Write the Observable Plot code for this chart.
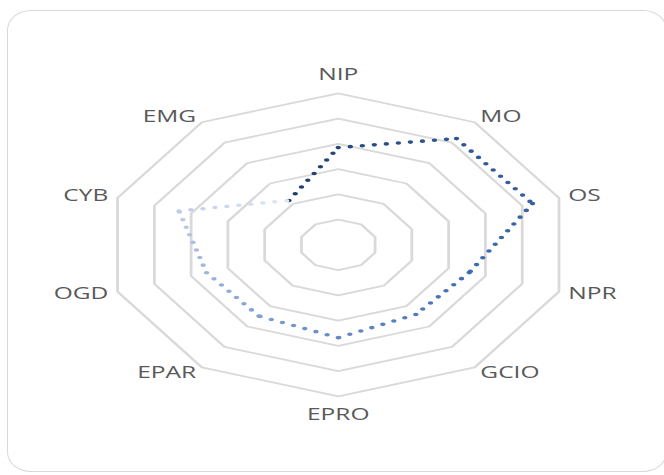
<!DOCTYPE html>
<html>
<head>
<meta charset="utf-8">
<script src="https://cdn.jsdelivr.net/npm/d3@7"></script>
<script src="https://cdn.jsdelivr.net/npm/@observablehq/plot@0.6"></script>
<style>
  html, body { margin: 0; padding: 0; background: #fff; }
  body { width: 664px; height: 475px; overflow: hidden; position: relative; }
  #frame {
    position: absolute; left: 7px; top: 10px; width: 660px; height: 462px;
    border: 1.5px solid #d9d9d9; border-radius: 24px / 20px; box-sizing: border-box;
  }
  #chart { position: absolute; left: 0; top: 0; transform: scaleX(1.532); transform-origin: 0 0; }
</style>
</head>
<body>
<div id="frame"></div>
<div id="chart"></div>
<script>
// Radar axes, clockwise from the top
const axes = ["NIP", "MO", "OS", "NPR", "GCIO", "EPRO", "EPAR", "OGD", "CYB", "EMG"];
// Score on each axis (scale 0–6)
const scores = [3.85, 5.2, 5.28, 3.56, 3.41, 3.68, 3.49, 3.58, 4.33, 2.17];
// Grid rings
const ringLevels = [1, 2, 3, 4, 5, 6];

const n = axes.length;
const maxLevel = d3.max(ringLevels);
const angle = i => (2 * Math.PI * i) / n;
const polar = (r, i) => ({x: r * Math.sin(angle(i)), y: r * Math.cos(angle(i))});

// Closed decagon rings
const rings = ringLevels.flatMap(level =>
  d3.range(n + 1).map(i => ({level, ...polar(level, i % n)}))
);

// Series points and the segments joining them (path starts with EMG → NIP)
const pts = scores.map((v, i) => ({axis: axes[i], ...polar(v, i)}));
const segments = d3.range(n).map(k => {
  const a = pts[(k + n - 1) % n], b = pts[k];
  return {k, x1: a.x, y1: a.y, x2: b.x, y2: b.y, t0: k / n, t1: (k + 1) / n};
});

// Line colour runs from deep navy to pale blue along the path
const shade = d3.scaleLinear()
  .domain([0, 0.2, 0.4, 0.6, 0.8, 1])
  .range(["#1e3a66", "#2f5692", "#3f6cb3", "#6688c8", "#9db3df", "#dfe7f5"])
  .interpolate(d3.interpolateRgb);

// Axis labels
const labels = axes.map((name, i) => {
  const s = Math.sin(angle(i));
  const r = Math.abs(s) < 0.01 ? 6.72 : 6.25;
  return {name, side: s > 0.01 ? "start" : s < -0.01 ? "end" : "middle", ...polar(r, i)};
});

const cx = 220.3, cy = 244.3, R = 151.5;
const textOpts = side => ({
  x: "x", y: "y", text: "name", textAnchor: side, lineAnchor: "middle",
  fill: "#595959", fontSize: 16, fontFamily: "Open Sans"
});

const plot = Plot.plot({
  width: 434,
  height: 475,
  style: {fontFamily: "Open Sans", background: "transparent", overflow: "visible"},
  x: {domain: [-maxLevel, maxLevel], range: [cx - R, cx + R], axis: null},
  y: {domain: [-maxLevel, maxLevel], range: [cy + R, cy - R], axis: null},
  color: {type: "identity"},
  marks: [
    Plot.line(rings, {x: "x", y: "y", z: "level", stroke: "#d9d9d9", strokeWidth: 1.8, curve: "linear-closed"}),
    Plot.link(segments, {
      x1: "x1", y1: "y1", x2: "x2", y2: "y2",
      stroke: d => `url(#radar-seg-${d.k})`,
      strokeWidth: 3.6, strokeLinecap: "round", strokeDasharray: "0 7.9"
    }),
    Plot.text(labels.filter(d => d.side === "middle"), textOpts("middle")),
    Plot.text(labels.filter(d => d.side === "start"), textOpts("start")),
    Plot.text(labels.filter(d => d.side === "end"), textOpts("end"))
  ]
});

// Per-segment gradients placed with the plot's own scales
const sx = plot.scale("x"), sy = plot.scale("y");
const defs = d3.select(plot).insert("defs", ":first-child");
segments.forEach(s => {
  const g = defs.append("linearGradient")
    .attr("id", `radar-seg-${s.k}`)
    .attr("gradientUnits", "userSpaceOnUse")
    .attr("x1", sx.apply(s.x1)).attr("y1", sy.apply(s.y1))
    .attr("x2", sx.apply(s.x2)).attr("y2", sy.apply(s.y2));
  g.append("stop").attr("offset", 0).attr("stop-color", shade(s.t0));
  g.append("stop").attr("offset", 1).attr("stop-color", shade(s.t1));
});

document.getElementById("chart").appendChild(plot);
</script>
</body>
</html>
